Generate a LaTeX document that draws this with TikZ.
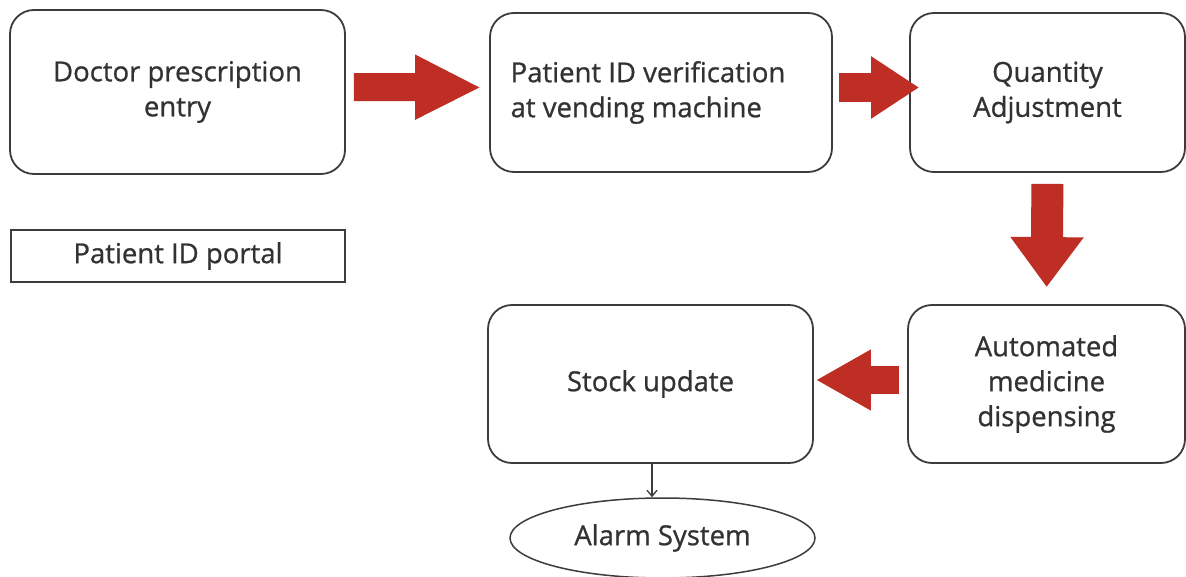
\documentclass[tikz,border=0pt]{standalone}
\usepackage{fontspec}
\setmainfont{Open Sans}[RawFeature={embolden=0.8}]
\usetikzlibrary{arrows.meta,shapes.geometric,calc}
\definecolor{arrowred}{RGB}{190,46,36}
\definecolor{txt}{RGB}{50,50,50}
\definecolor{edge}{RGB}{60,60,60}
\begin{document}
\begin{tikzpicture}[x=1pt,y=-1pt,
  lbl/.style={text=txt,font=\fontsize{27.5}{35}\selectfont},
  box/.style={draw=edge,line width=1.8pt,rounded corners=24pt,align=center,
    inner sep=0pt,lbl},
  flat/.style={draw=edge,line width=1.8pt,align=center,inner sep=0pt,lbl}
]
\useasboundingbox (0,0) rectangle (1186,577);
\fill[white] (0,0) rectangle (1186,577);

\node[box,minimum width=335pt,minimum height=164pt] (doc) at (177.5,92) {Doctor prescription\\entry};
\node[box,minimum width=342pt,minimum height=159pt,align=left] (ver) at (661,92.5) {Patient ID verification\hspace*{26pt}\\at vending machine};
\node[box,minimum width=275pt,minimum height=159pt] (qty) at (1047.5,92.5) {Quantity\\Adjustment};
\node[flat,minimum width=334pt,minimum height=52pt] (portal) at (178,256) {Patient ID portal};
\node[box,minimum width=277pt,minimum height=158pt] (auto) at (1046.5,384) {Automated\\medicine\\dispensing};
\node[box,minimum width=325pt,minimum height=158pt] (stock) at (650.5,384) {Stock update};
\node[ellipse,draw=edge,line width=1.5pt,minimum width=305pt,minimum height=80pt,inner sep=0pt,
  lbl] (alarm) at (662.5,538) {Alarm System};

% block arrows
\draw[arrowred,line width=28pt,-{Triangle[length=66pt,width=60pt]},shorten <=8pt,shorten >=8pt]
  ($(doc.east)+(0,-5)$) -- ($(ver.west)+(0,-5)$);
\draw[arrowred,line width=29pt,-{Triangle[length=48pt,width=59pt]},shorten <=6pt,shorten >=-10pt]
  ($(ver.east)+(0,-5)$) -- ($(qty.west)+(0,-5)$);
\draw[arrowred,line width=32pt,-{Triangle[length=50pt,width=70pt]},shorten <=11pt,shorten >=17pt]
  (qty.south) -- (auto.north);
\draw[arrowred,line width=28pt,-{Triangle[length=55pt,width=57pt]},shorten <=8pt,shorten >=2pt]
  ($(auto.west)+(0,-4)$) -- ($(stock.east)+(0,-4)$);

% small arrow
\draw[edge,line width=1.3pt,-{Straight Barb[length=6pt,width=10pt]}]
  ($(stock.south)+(1.5,0)$) -- ($(alarm.north)+(-10.5,0)$);
\end{tikzpicture}
\end{document}
